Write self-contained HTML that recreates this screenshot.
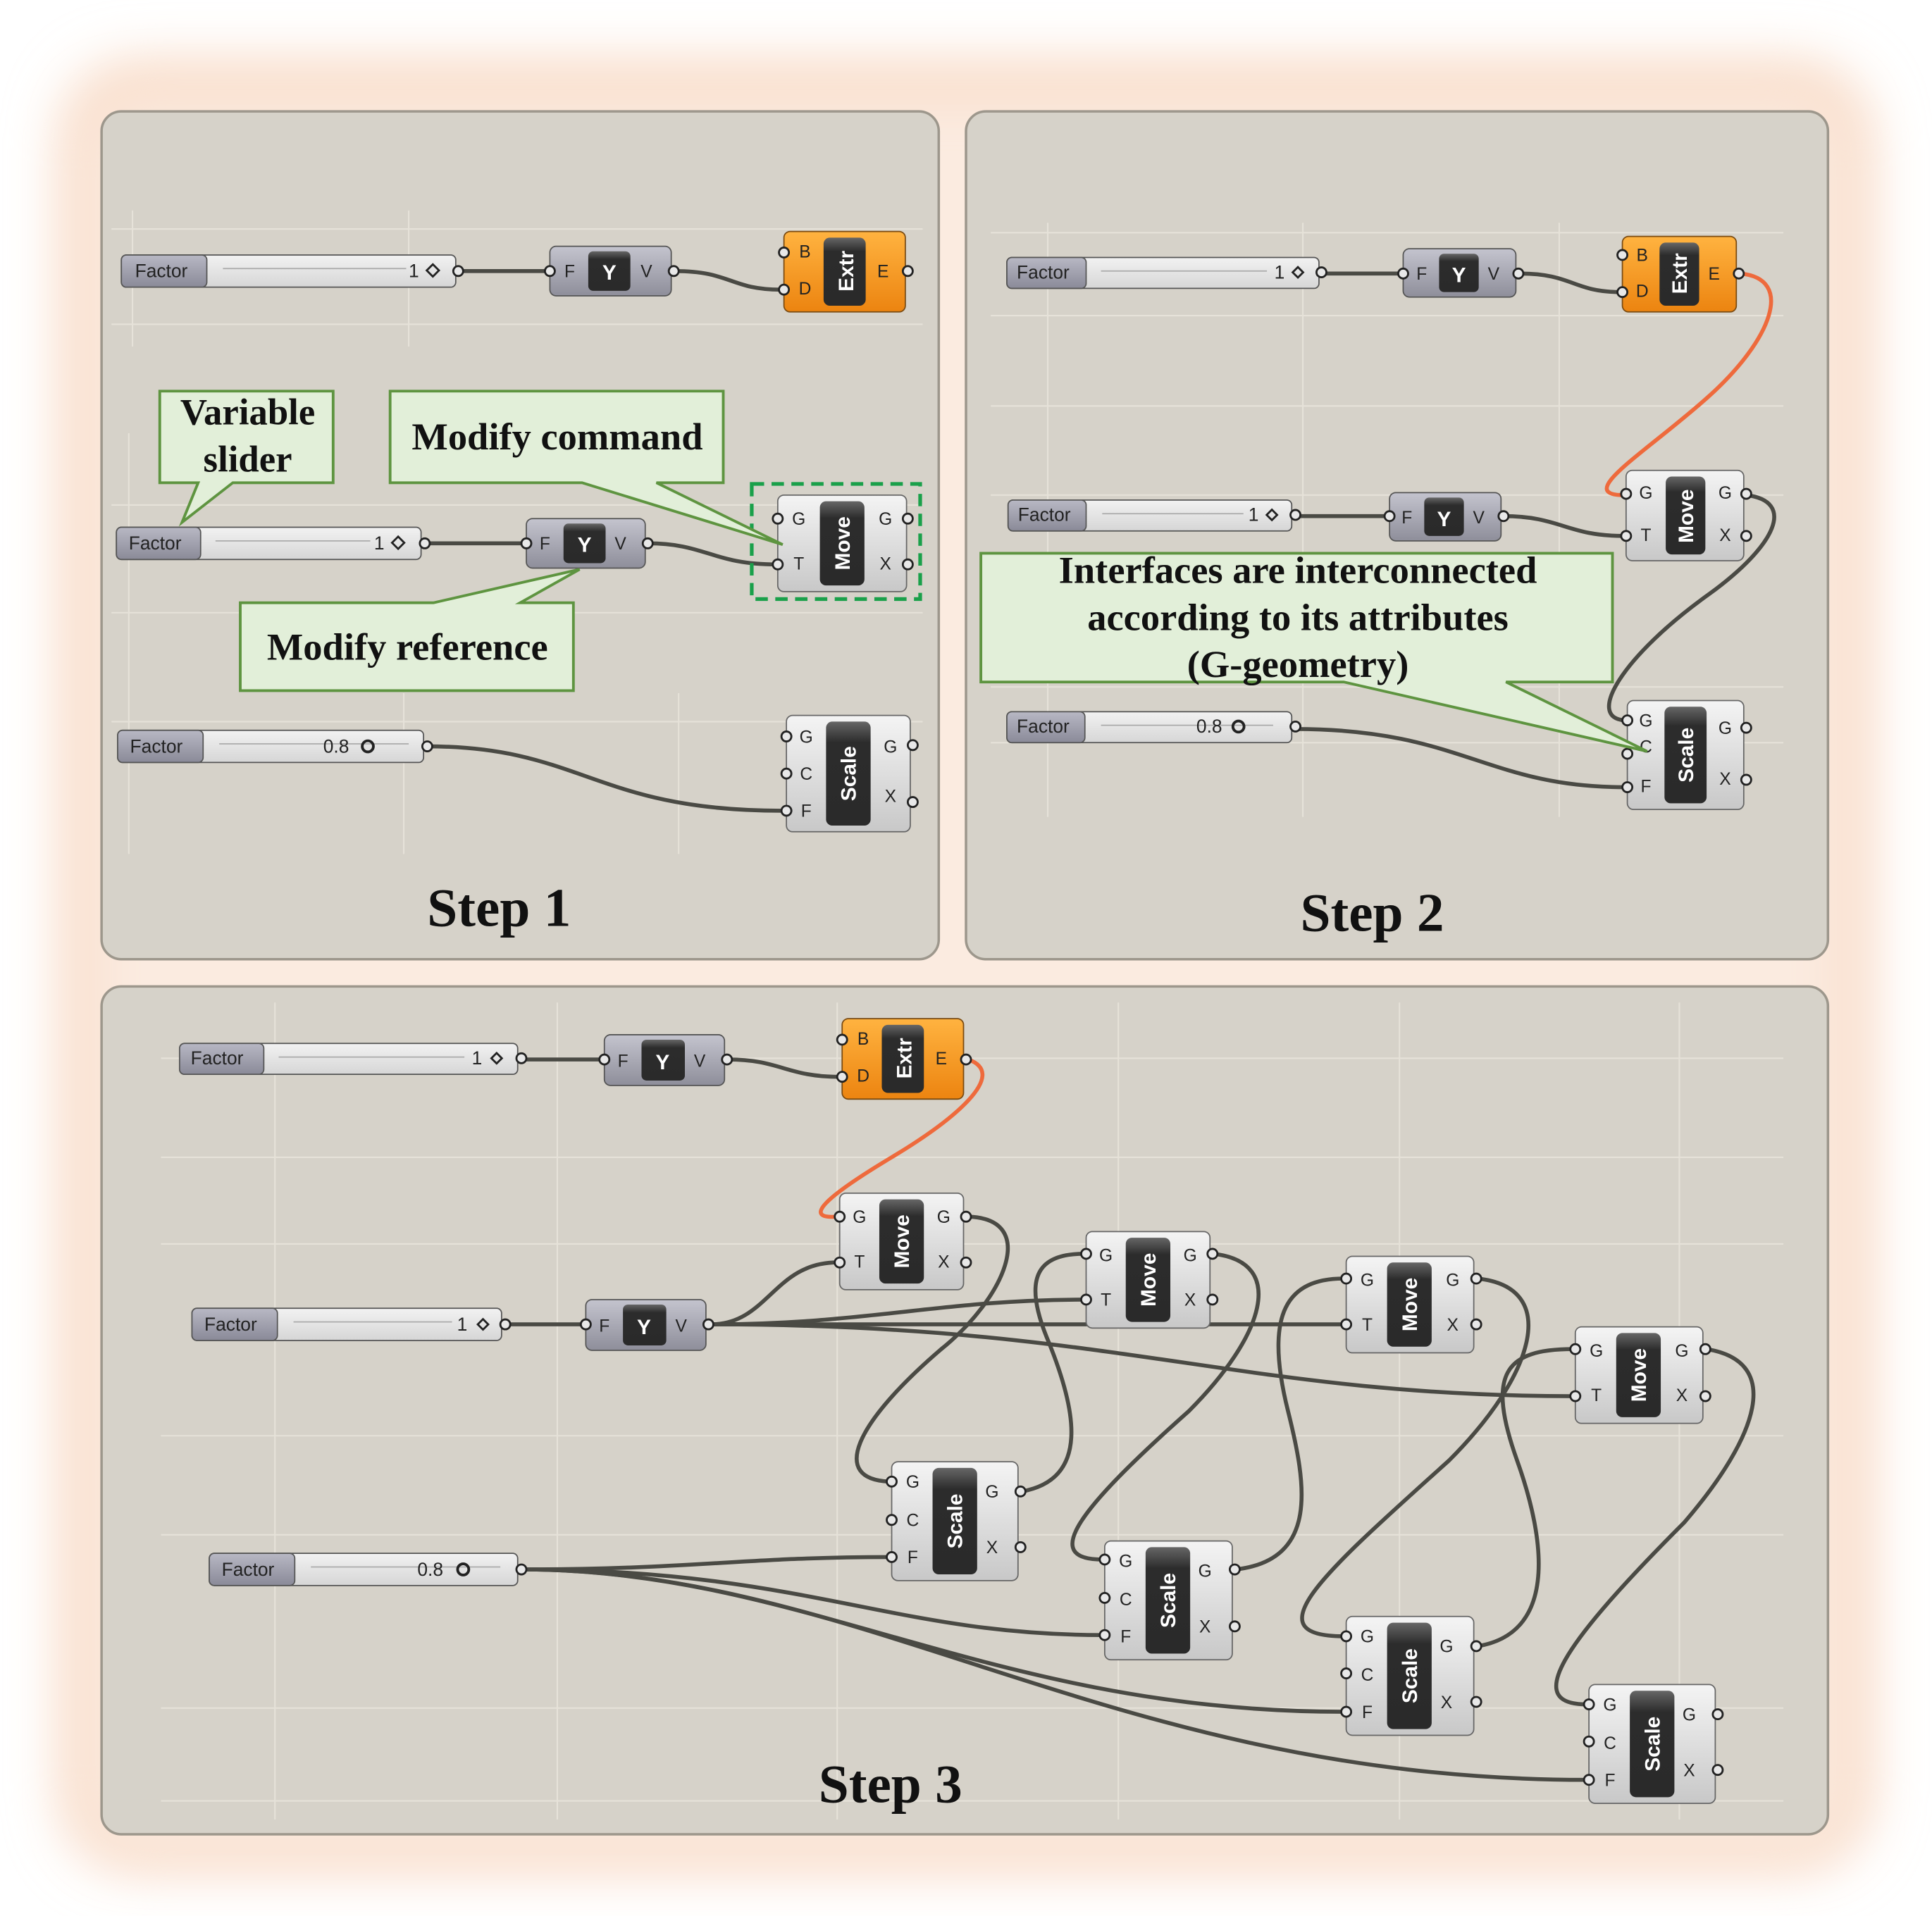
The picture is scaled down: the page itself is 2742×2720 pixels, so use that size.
<!DOCTYPE html>
<html><head><meta charset="utf-8"><style>
html,body{margin:0;padding:0;background:#fff;}
svg{display:block;}
.sl{font-family:"Liberation Sans",sans-serif;font-size:15px;fill:#222;}
.pl{font-family:"Liberation Sans",sans-serif;font-size:14px;fill:#222;text-anchor:middle;}
.ct{font-family:"Liberation Sans",sans-serif;font-size:17px;font-weight:bold;fill:#fff;text-anchor:middle;}
.cb{font-family:"Liberation Serif",serif;font-weight:bold;fill:#111;text-anchor:middle;}
.w{fill:none;stroke:#4a4a44;stroke-width:3.2;}
.wo{fill:none;stroke:#ee6a3c;stroke-width:3.2;}
.pt{fill:#e8e8e8;stroke:#222;stroke-width:1.6;}
.grid{stroke:#e6e2d9;stroke-width:1.2;}
</style></head><body>
<svg width="2742" height="2720" viewBox="0 0 1560 1548" preserveAspectRatio="none" xmlns="http://www.w3.org/2000/svg">
<defs>
<filter id="blur" x="-10%" y="-10%" width="120%" height="120%"><feGaussianBlur stdDeviation="22"/></filter>
<linearGradient id="gc" x1="0" y1="0" x2="0" y2="1"><stop offset="0" stop-color="#f4f4f4"/><stop offset="1" stop-color="#c8c8c8"/></linearGradient>
<linearGradient id="gy" x1="0" y1="0" x2="0" y2="1"><stop offset="0" stop-color="#c4c4ce"/><stop offset="1" stop-color="#8e8e9a"/></linearGradient>
<linearGradient id="go" x1="0" y1="0" x2="0" y2="1"><stop offset="0" stop-color="#ffb340"/><stop offset="1" stop-color="#ec8410"/></linearGradient>
<linearGradient id="gd" x1="0" y1="0" x2="0" y2="1"><stop offset="0" stop-color="#666"/><stop offset="0.2" stop-color="#2c2c2c"/><stop offset="1" stop-color="#2a2a2a"/></linearGradient>
<linearGradient id="gl" x1="0" y1="0" x2="0" y2="1"><stop offset="0" stop-color="#b8b8c4"/><stop offset="1" stop-color="#8a8a98"/></linearGradient>
<linearGradient id="gs" x1="0" y1="0" x2="0" y2="1"><stop offset="0" stop-color="#f2f2f2"/><stop offset="1" stop-color="#d6d6d6"/></linearGradient>
</defs>
<rect x="0" y="0" width="1560" height="1548" fill="#fff"/>
<rect x="50" y="50" width="1460" height="1460" rx="60" fill="#f8d8c2" filter="url(#blur)"/>
<rect x="70" y="75" width="1420" height="1420" rx="40" fill="#fbebe0" filter="url(#blur)"/>

<!-- panels -->
<rect x="82" y="90" width="676" height="685" rx="16" fill="#d6d2c9" stroke="#9d978c" stroke-width="2"/>
<rect x="780" y="90" width="696" height="685" rx="16" fill="#d6d2c9" stroke="#9d978c" stroke-width="2"/>
<rect x="82" y="797" width="1394" height="685" rx="16" fill="#d6d2c9" stroke="#9d978c" stroke-width="2"/>

<!-- grid lines -->
<g class="grid">
<line x1="90" y1="185" x2="745" y2="185"/><line x1="90" y1="262" x2="745" y2="262"/><line x1="90" y1="408" x2="745" y2="408"/><line x1="90" y1="495" x2="745" y2="495"/><line x1="90" y1="583" x2="745" y2="583"/>
<line x1="107" y1="170" x2="107" y2="280"/><line x1="330" y1="170" x2="330" y2="280"/><line x1="104" y1="350" x2="104" y2="690"/><line x1="326" y1="560" x2="326" y2="690"/><line x1="548" y1="560" x2="548" y2="690"/>
<line x1="800" y1="188" x2="1440" y2="188"/><line x1="800" y1="255" x2="1440" y2="255"/><line x1="800" y1="328" x2="1440" y2="328"/><line x1="800" y1="400" x2="1440" y2="400"/><line x1="800" y1="555" x2="1440" y2="555"/><line x1="800" y1="600" x2="1440" y2="600"/>
<line x1="846" y1="180" x2="846" y2="660"/><line x1="1052" y1="180" x2="1052" y2="660"/><line x1="1259" y1="180" x2="1259" y2="660"/>
<line x1="130" y1="855" x2="1440" y2="855"/><line x1="130" y1="935" x2="1440" y2="935"/><line x1="130" y1="1005" x2="1440" y2="1005"/><line x1="130" y1="1160" x2="1440" y2="1160"/><line x1="130" y1="1240" x2="1440" y2="1240"/><line x1="130" y1="1380" x2="1440" y2="1380"/><line x1="130" y1="1455" x2="1440" y2="1455"/>
<line x1="222" y1="810" x2="222" y2="1470"/><line x1="450" y1="810" x2="450" y2="1470"/><line x1="676" y1="810" x2="676" y2="1470"/><line x1="903" y1="810" x2="903" y2="1470"/><line x1="1130" y1="810" x2="1130" y2="1470"/><line x1="1356" y1="810" x2="1356" y2="1470"/>
</g>

<!-- ===== WIRES ===== -->
<path class="w" d="M371,219 L444,219"/>
<path class="w" d="M545,219 C590,219 590,234 630,234"/>
<path class="w" d="M343,439 L424,439"/>
<path class="w" d="M523,439 C570,439 575,456 627,456"/>
<path class="w" d="M345,603 C470,603 480,655 631,655"/>
<path class="w" d="M1068,221 L1132,221"/>
<path class="w" d="M1227,221 C1270,221 1270,236 1309,236"/>
<path class="wo" d="M1405,221 C1450,225 1430,275 1380,320 C1330,365 1270,400 1311,400"/>
<path class="w" d="M1046,417 L1121,417"/>
<path class="w" d="M1214,417 C1260,417 1265,433 1311,433"/>
<path class="w" d="M1410,400 C1450,405 1435,440 1380,480 C1310,530 1280,580 1312,582"/>
<path class="w" d="M1046,589 C1180,589 1200,636 1312,636"/>
<path class="w" d="M422,856 L487,856"/>
<path class="w" d="M588,856 C630,856 635,870 678,870"/>
<path class="wo" d="M782,856 C815,868 770,905 720,935 C665,968 648,985 676,983"/>
<path class="w" d="M409,1070 L472,1070"/>
<path class="w" d="M574,1070 C620,1070 625,1020 676,1020"/>
<path class="w" d="M574,1070 C700,1070 760,1050 875,1050"/>
<path class="w" d="M574,1070 L1085,1070"/>
<path class="w" d="M574,1070 C900,1070 1000,1128 1270,1128"/>
<path class="w" d="M421,1268 C560,1268 600,1258 718,1258"/>
<path class="w" d="M421,1268 C650,1268 720,1321 890,1321"/>
<path class="w" d="M421,1268 C650,1268 800,1383 1085,1383"/>
<path class="w" d="M421,1268 C700,1268 900,1438 1281,1438"/>
<path class="w" d="M782,983 C840,985 810,1050 760,1090 C690,1150 670,1195 718,1197"/>
<path class="w" d="M825,1205 C880,1195 870,1140 845,1080 C825,1030 840,1013 875,1013"/>
<path class="w" d="M980,1013 C1040,1020 1020,1080 960,1140 C870,1220 840,1260 890,1260"/>
<path class="w" d="M998,1268 C1065,1260 1055,1200 1040,1140 C1020,1060 1040,1033 1085,1033"/>
<path class="w" d="M1193,1033 C1260,1040 1240,1110 1170,1180 C1070,1270 1010,1322 1085,1322"/>
<path class="w" d="M1193,1330 C1255,1320 1250,1250 1225,1180 C1200,1110 1215,1090 1270,1090"/>
<path class="w" d="M1378,1090 C1440,1100 1420,1160 1360,1230 C1260,1330 1230,1377 1281,1377"/>

<!-- ===== SLIDERS ===== -->
<g transform="translate(98,206)">
<rect width="270" height="26" rx="4" fill="url(#gs)" stroke="#555"/><rect width="69" height="26" rx="4" fill="url(#gl)" stroke="#555"/>
<line x1="82" y1="11" x2="230" y2="11" stroke="#aaa"/><text class="sl" x="11" y="18">Factor</text><text class="sl" x="232" y="18">1</text>
<rect x="248" y="9" width="7" height="7" transform="rotate(45 251.5 12.5)" fill="none" stroke="#222" stroke-width="1.6"/><circle class="pt" cx="272" cy="13" r="4"/></g>
<g transform="translate(94,426)">
<rect width="246" height="26" rx="4" fill="url(#gs)" stroke="#555"/><rect width="68" height="26" rx="4" fill="url(#gl)" stroke="#555"/>
<line x1="80" y1="11" x2="205" y2="11" stroke="#aaa"/><text class="sl" x="10" y="18">Factor</text><text class="sl" x="208" y="18">1</text>
<rect x="224" y="9" width="7" height="7" transform="rotate(45 227.5 12.5)" fill="none" stroke="#222" stroke-width="1.6"/><circle class="pt" cx="249" cy="13" r="4"/></g>
<g transform="translate(95,590)">
<rect width="247" height="26" rx="4" fill="url(#gs)" stroke="#555"/><rect width="69" height="26" rx="4" fill="url(#gl)" stroke="#555"/>
<line x1="82" y1="11" x2="235" y2="11" stroke="#aaa"/><text class="sl" x="10" y="18">Factor</text><text class="sl" x="166" y="18">0.8</text>
<circle cx="202" cy="13" r="4.5" fill="none" stroke="#222" stroke-width="2.2"/><circle class="pt" cx="250" cy="13" r="4"/></g>

<g transform="translate(813,208)">
<rect width="252" height="25" rx="4" fill="url(#gs)" stroke="#555"/><rect width="64" height="25" rx="4" fill="url(#gl)" stroke="#555"/>
<line x1="76" y1="11" x2="210" y2="11" stroke="#aaa"/><text class="sl" x="8" y="17">Factor</text><text class="sl" x="216" y="17">1</text>
<rect x="232" y="9" width="6" height="6" transform="rotate(45 235 12)" fill="none" stroke="#222" stroke-width="1.6"/><circle class="pt" cx="254" cy="12" r="4"/></g>
<g transform="translate(814,404)">
<rect width="229" height="25" rx="4" fill="url(#gs)" stroke="#555"/><rect width="63" height="25" rx="4" fill="url(#gl)" stroke="#555"/>
<line x1="76" y1="11" x2="190" y2="11" stroke="#aaa"/><text class="sl" x="8" y="17">Factor</text><text class="sl" x="194" y="17">1</text>
<rect x="210" y="9" width="6" height="6" transform="rotate(45 213 12)" fill="none" stroke="#222" stroke-width="1.6"/><circle class="pt" cx="232" cy="12" r="4"/></g>
<g transform="translate(813,575)">
<rect width="230" height="25" rx="4" fill="url(#gs)" stroke="#555"/><rect width="63" height="25" rx="4" fill="url(#gl)" stroke="#555"/>
<line x1="76" y1="11" x2="215" y2="11" stroke="#aaa"/><text class="sl" x="8" y="17">Factor</text><text class="sl" x="153" y="17">0.8</text>
<circle cx="187" cy="12" r="4.5" fill="none" stroke="#222" stroke-width="2.2"/><circle class="pt" cx="233" cy="12" r="4"/></g>

<g transform="translate(145,843)">
<rect width="273" height="25" rx="4" fill="url(#gs)" stroke="#555"/><rect width="68" height="25" rx="4" fill="url(#gl)" stroke="#555"/>
<line x1="80" y1="11" x2="230" y2="11" stroke="#aaa"/><text class="sl" x="9" y="17">Factor</text><text class="sl" x="236" y="17">1</text>
<rect x="253" y="9" width="6" height="6" transform="rotate(45 256 12)" fill="none" stroke="#222" stroke-width="1.6"/><circle class="pt" cx="276" cy="12" r="4"/></g>
<g transform="translate(155,1057)">
<rect width="250" height="26" rx="4" fill="url(#gs)" stroke="#555"/><rect width="69" height="26" rx="4" fill="url(#gl)" stroke="#555"/>
<line x1="82" y1="11" x2="210" y2="11" stroke="#aaa"/><text class="sl" x="10" y="18">Factor</text><text class="sl" x="214" y="18">1</text>
<rect x="232" y="10" width="6" height="6" transform="rotate(45 235 13)" fill="none" stroke="#222" stroke-width="1.6"/><circle class="pt" cx="253" cy="13" r="4"/></g>
<g transform="translate(169,1255)">
<rect width="249" height="26" rx="4" fill="url(#gs)" stroke="#555"/><rect width="69" height="26" rx="4" fill="url(#gl)" stroke="#555"/>
<line x1="82" y1="11" x2="235" y2="11" stroke="#aaa"/><text class="sl" x="10" y="18">Factor</text><text class="sl" x="168" y="18">0.8</text>
<circle cx="205" cy="13" r="4.5" fill="none" stroke="#222" stroke-width="2.2"/><circle class="pt" cx="252" cy="13" r="4"/></g>

<!-- ===== FYV ===== -->
<g transform="translate(444,199)">
<rect width="98" height="40" rx="5" fill="url(#gy)" stroke="#555"/><rect x="31" y="4" width="34" height="32" rx="4" fill="url(#gd)"/>
<text class="ct" x="48" y="27" font-size="20">Y</text><text class="pl" x="16" y="25">F</text><text class="pl" x="78" y="25">V</text>
<circle class="pt" cx="0" cy="20" r="4"/><circle class="pt" cx="100" cy="20" r="4"/></g>
<g transform="translate(425,419)">
<rect width="96" height="40" rx="5" fill="url(#gy)" stroke="#555"/><rect x="30" y="4" width="34" height="32" rx="4" fill="url(#gd)"/>
<text class="ct" x="47" y="27" font-size="20">Y</text><text class="pl" x="15" y="25">F</text><text class="pl" x="76" y="25">V</text>
<circle class="pt" cx="0" cy="20" r="4"/><circle class="pt" cx="98" cy="20" r="4"/></g>
<g transform="translate(1133,201)">
<rect width="91" height="39" rx="5" fill="url(#gy)" stroke="#555"/><rect x="29" y="4" width="32" height="31" rx="4" fill="url(#gd)"/>
<text class="ct" x="45" y="27" font-size="19">Y</text><text class="pl" x="15" y="25">F</text><text class="pl" x="73" y="25">V</text>
<circle class="pt" cx="0" cy="20" r="4"/><circle class="pt" cx="93" cy="20" r="4"/></g>
<g transform="translate(1122,398)">
<rect width="90" height="39" rx="5" fill="url(#gy)" stroke="#555"/><rect x="28" y="4" width="32" height="31" rx="4" fill="url(#gd)"/>
<text class="ct" x="44" y="27" font-size="19">Y</text><text class="pl" x="14" y="25">F</text><text class="pl" x="72" y="25">V</text>
<circle class="pt" cx="0" cy="19" r="4"/><circle class="pt" cx="92" cy="19" r="4"/></g>
<g transform="translate(488,836)">
<rect width="97" height="41" rx="5" fill="url(#gy)" stroke="#555"/><rect x="30" y="4" width="35" height="33" rx="4" fill="url(#gd)"/>
<text class="ct" x="47" y="28" font-size="20">Y</text><text class="pl" x="15" y="26">F</text><text class="pl" x="77" y="26">V</text>
<circle class="pt" cx="0" cy="20" r="4"/><circle class="pt" cx="99" cy="20" r="4"/></g>
<g transform="translate(473,1050)">
<rect width="97" height="41" rx="5" fill="url(#gy)" stroke="#555"/><rect x="30" y="4" width="35" height="33" rx="4" fill="url(#gd)"/>
<text class="ct" x="47" y="28" font-size="20">Y</text><text class="pl" x="15" y="26">F</text><text class="pl" x="77" y="26">V</text>
<circle class="pt" cx="0" cy="20" r="4"/><circle class="pt" cx="99" cy="20" r="4"/></g>

<!-- ===== Extr ===== -->
<g transform="translate(633,187)">
<rect width="98" height="65" rx="5" fill="url(#go)" stroke="#7a4a10"/><rect x="32" y="5" width="34" height="55" rx="5" fill="url(#gd)"/>
<text class="ct" transform="translate(56,32) rotate(-90)">Extr</text><text class="pl" x="17" y="21">B</text><text class="pl" x="17" y="51">D</text><text class="pl" x="80" y="37">E</text>
<circle class="pt" cx="0" cy="17" r="4"/><circle class="pt" cx="0" cy="47" r="4"/><circle class="pt" cx="100" cy="32" r="4"/></g>
<g transform="translate(1310,191)">
<rect width="92" height="61" rx="5" fill="url(#go)" stroke="#7a4a10"/><rect x="30" y="5" width="32" height="51" rx="5" fill="url(#gd)"/>
<text class="ct" transform="translate(52,30) rotate(-90)" font-size="16">Extr</text><text class="pl" x="16" y="20">B</text><text class="pl" x="16" y="49">D</text><text class="pl" x="74" y="35">E</text>
<circle class="pt" cx="0" cy="15" r="4"/><circle class="pt" cx="0" cy="45" r="4"/><circle class="pt" cx="94" cy="30" r="4"/></g>
<g transform="translate(680,823)">
<rect width="98" height="65" rx="5" fill="url(#go)" stroke="#7a4a10"/><rect x="32" y="5" width="34" height="55" rx="5" fill="url(#gd)"/>
<text class="ct" transform="translate(56,32) rotate(-90)">Extr</text><text class="pl" x="17" y="21">B</text><text class="pl" x="17" y="51">D</text><text class="pl" x="80" y="37">E</text>
<circle class="pt" cx="0" cy="17" r="4"/><circle class="pt" cx="0" cy="47" r="4"/><circle class="pt" cx="100" cy="33" r="4"/></g>

<!-- ===== Move ===== -->
<g transform="translate(628,400)">
<rect width="104" height="78" rx="5" fill="url(#gc)" stroke="#666"/><rect x="34" y="5" width="36" height="68" rx="5" fill="url(#gd)"/>
<text class="ct" transform="translate(58,39) rotate(-90)" font-size="19">Move</text><text class="pl" x="17" y="24">G</text><text class="pl" x="17" y="60">T</text><text class="pl" x="87" y="24">G</text><text class="pl" x="87" y="60">X</text>
<circle class="pt" cx="0" cy="19" r="4"/><circle class="pt" cx="0" cy="56" r="4"/><circle class="pt" cx="105" cy="19" r="4"/><circle class="pt" cx="105" cy="56" r="4"/></g>
<rect x="607" y="391" width="136" height="93" fill="none" stroke="#1aa04a" stroke-width="3" stroke-dasharray="10,6"/>
<g transform="translate(1313,380)">
<rect width="95" height="73" rx="5" fill="url(#gc)" stroke="#666"/><rect x="32" y="5" width="32" height="63" rx="5" fill="url(#gd)"/>
<text class="ct" transform="translate(54,37) rotate(-90)" font-size="17">Move</text><text class="pl" x="16" y="23">G</text><text class="pl" x="16" y="57">T</text><text class="pl" x="80" y="23">G</text><text class="pl" x="80" y="57">X</text>
<circle class="pt" cx="0" cy="19" r="4"/><circle class="pt" cx="0" cy="53" r="4"/><circle class="pt" cx="97" cy="19" r="4"/><circle class="pt" cx="97" cy="53" r="4"/></g>
<g transform="translate(678,964)">
<rect width="100" height="78" rx="5" fill="url(#gc)" stroke="#666"/><rect x="32" y="5" width="36" height="68" rx="5" fill="url(#gd)"/>
<text class="ct" transform="translate(56,39) rotate(-90)" font-size="19">Move</text><text class="pl" x="16" y="24">G</text><text class="pl" x="16" y="60">T</text><text class="pl" x="84" y="24">G</text><text class="pl" x="84" y="60">X</text>
<circle class="pt" cx="0" cy="19" r="4"/><circle class="pt" cx="0" cy="56" r="4"/><circle class="pt" cx="102" cy="19" r="4"/><circle class="pt" cx="102" cy="56" r="4"/></g>
<g transform="translate(877,995)">
<rect width="100" height="78" rx="5" fill="url(#gc)" stroke="#666"/><rect x="32" y="5" width="36" height="68" rx="5" fill="url(#gd)"/>
<text class="ct" transform="translate(56,39) rotate(-90)" font-size="19">Move</text><text class="pl" x="16" y="24">G</text><text class="pl" x="16" y="60">T</text><text class="pl" x="84" y="24">G</text><text class="pl" x="84" y="60">X</text>
<circle class="pt" cx="0" cy="18" r="4"/><circle class="pt" cx="0" cy="55" r="4"/><circle class="pt" cx="102" cy="18" r="4"/><circle class="pt" cx="102" cy="55" r="4"/></g>
<g transform="translate(1087,1015)">
<rect width="103" height="78" rx="5" fill="url(#gc)" stroke="#666"/><rect x="33" y="5" width="36" height="68" rx="5" fill="url(#gd)"/>
<text class="ct" transform="translate(57,39) rotate(-90)" font-size="19">Move</text><text class="pl" x="17" y="24">G</text><text class="pl" x="17" y="60">T</text><text class="pl" x="86" y="24">G</text><text class="pl" x="86" y="60">X</text>
<circle class="pt" cx="0" cy="18" r="4"/><circle class="pt" cx="0" cy="55" r="4"/><circle class="pt" cx="105" cy="18" r="4"/><circle class="pt" cx="105" cy="55" r="4"/></g>
<g transform="translate(1272,1072)">
<rect width="103" height="78" rx="5" fill="url(#gc)" stroke="#666"/><rect x="33" y="5" width="36" height="68" rx="5" fill="url(#gd)"/>
<text class="ct" transform="translate(57,39) rotate(-90)" font-size="19">Move</text><text class="pl" x="17" y="24">G</text><text class="pl" x="17" y="60">T</text><text class="pl" x="86" y="24">G</text><text class="pl" x="86" y="60">X</text>
<circle class="pt" cx="0" cy="18" r="4"/><circle class="pt" cx="0" cy="56" r="4"/><circle class="pt" cx="105" cy="18" r="4"/><circle class="pt" cx="105" cy="56" r="4"/></g>

<!-- ===== Scale ===== -->
<g transform="translate(635,578)">
<rect width="100" height="94" rx="5" fill="url(#gc)" stroke="#666"/><rect x="32" y="5" width="36" height="84" rx="5" fill="url(#gd)"/>
<text class="ct" transform="translate(56,47) rotate(-90)" font-size="19">Scale</text><text class="pl" x="16" y="22">G</text><text class="pl" x="16" y="52">C</text><text class="pl" x="16" y="82">F</text><text class="pl" x="84" y="30">G</text><text class="pl" x="84" y="70">X</text>
<circle class="pt" cx="0" cy="17" r="4"/><circle class="pt" cx="0" cy="47" r="4"/><circle class="pt" cx="0" cy="77" r="4"/><circle class="pt" cx="102" cy="24" r="4"/><circle class="pt" cx="102" cy="70" r="4"/></g>
<g transform="translate(1314,566)">
<rect width="94" height="88" rx="5" fill="url(#gc)" stroke="#666"/><rect x="30" y="5" width="34" height="78" rx="5" fill="url(#gd)"/>
<text class="ct" transform="translate(53,44) rotate(-90)" font-size="17">Scale</text><text class="pl" x="15" y="21">G</text><text class="pl" x="15" y="42">C</text><text class="pl" x="15" y="74">F</text><text class="pl" x="79" y="27">G</text><text class="pl" x="79" y="68">X</text>
<circle class="pt" cx="0" cy="16" r="4"/><circle class="pt" cx="0" cy="43" r="4"/><circle class="pt" cx="0" cy="70" r="4"/><circle class="pt" cx="96" cy="22" r="4"/><circle class="pt" cx="96" cy="64" r="4"/></g>
<g transform="translate(720,1181)">
<rect width="102" height="96" rx="5" fill="url(#gc)" stroke="#666"/><rect x="33" y="5" width="36" height="86" rx="5" fill="url(#gd)"/>
<text class="ct" transform="translate(57,48) rotate(-90)" font-size="19">Scale</text><text class="pl" x="17" y="21">G</text><text class="pl" x="17" y="52">C</text><text class="pl" x="17" y="82">F</text><text class="pl" x="81" y="29">G</text><text class="pl" x="81" y="74">X</text>
<circle class="pt" cx="0" cy="16" r="4"/><circle class="pt" cx="0" cy="47" r="4"/><circle class="pt" cx="0" cy="77" r="4"/><circle class="pt" cx="104" cy="24" r="4"/><circle class="pt" cx="104" cy="69" r="4"/></g>
<g transform="translate(892,1245)">
<rect width="103" height="96" rx="5" fill="url(#gc)" stroke="#666"/><rect x="33" y="5" width="36" height="86" rx="5" fill="url(#gd)"/>
<text class="ct" transform="translate(57,48) rotate(-90)" font-size="19">Scale</text><text class="pl" x="17" y="21">G</text><text class="pl" x="17" y="52">C</text><text class="pl" x="17" y="82">F</text><text class="pl" x="81" y="29">G</text><text class="pl" x="81" y="74">X</text>
<circle class="pt" cx="0" cy="15" r="4"/><circle class="pt" cx="0" cy="46" r="4"/><circle class="pt" cx="0" cy="76" r="4"/><circle class="pt" cx="105" cy="23" r="4"/><circle class="pt" cx="105" cy="69" r="4"/></g>
<g transform="translate(1087,1306)">
<rect width="103" height="96" rx="5" fill="url(#gc)" stroke="#666"/><rect x="33" y="5" width="36" height="86" rx="5" fill="url(#gd)"/>
<text class="ct" transform="translate(57,48) rotate(-90)" font-size="19">Scale</text><text class="pl" x="17" y="21">G</text><text class="pl" x="17" y="52">C</text><text class="pl" x="17" y="82">F</text><text class="pl" x="81" y="29">G</text><text class="pl" x="81" y="74">X</text>
<circle class="pt" cx="0" cy="16" r="4"/><circle class="pt" cx="0" cy="46" r="4"/><circle class="pt" cx="0" cy="77" r="4"/><circle class="pt" cx="105" cy="24" r="4"/><circle class="pt" cx="105" cy="69" r="4"/></g>
<g transform="translate(1283,1361)">
<rect width="102" height="96" rx="5" fill="url(#gc)" stroke="#666"/><rect x="33" y="5" width="36" height="86" rx="5" fill="url(#gd)"/>
<text class="ct" transform="translate(57,48) rotate(-90)" font-size="19">Scale</text><text class="pl" x="17" y="21">G</text><text class="pl" x="17" y="52">C</text><text class="pl" x="17" y="82">F</text><text class="pl" x="81" y="29">G</text><text class="pl" x="81" y="74">X</text>
<circle class="pt" cx="0" cy="16" r="4"/><circle class="pt" cx="0" cy="46" r="4"/><circle class="pt" cx="0" cy="77" r="4"/><circle class="pt" cx="104" cy="24" r="4"/><circle class="pt" cx="104" cy="69" r="4"/></g>

<!-- ===== Callouts ===== -->
<path d="M129,316 H269 V390 H188 L147,422 L160,390 H129 Z" fill="#e2efd9" stroke="#5e9440" stroke-width="2.2"/>
<text class="cb" x="200" y="343" font-size="30">Variable</text>
<text class="cb" x="200" y="381" font-size="30">slider</text>
<path d="M315,316 H584 V390 H530 L632,440 L470,390 H315 Z" fill="#e2efd9" stroke="#5e9440" stroke-width="2.2"/>
<text class="cb" x="450" y="363" font-size="31">Modify command</text>
<path d="M194,487 H350 L468,460 L420,487 H463 V558 H194 Z" fill="#e2efd9" stroke="#5e9440" stroke-width="2.2"/>
<text class="cb" x="329" y="533" font-size="31">Modify reference</text>
<path d="M792,447 H1302 V551 H1216 L1330,607 L1085,551 H792 Z" fill="#e2efd9" stroke="#5e9440" stroke-width="2.2"/>
<text class="cb" x="1048" y="471" font-size="31">Interfaces are interconnected</text>
<text class="cb" x="1048" y="509" font-size="31">according to its attributes</text>
<text class="cb" x="1048" y="547" font-size="31">(G-geometry)</text>

<!-- step labels -->
<text class="cb" x="403" y="748" font-size="44">Step 1</text>
<text class="cb" x="1108" y="752" font-size="44">Step 2</text>
<text class="cb" x="719" y="1456" font-size="44">Step 3</text>
</svg>
</body></html>
